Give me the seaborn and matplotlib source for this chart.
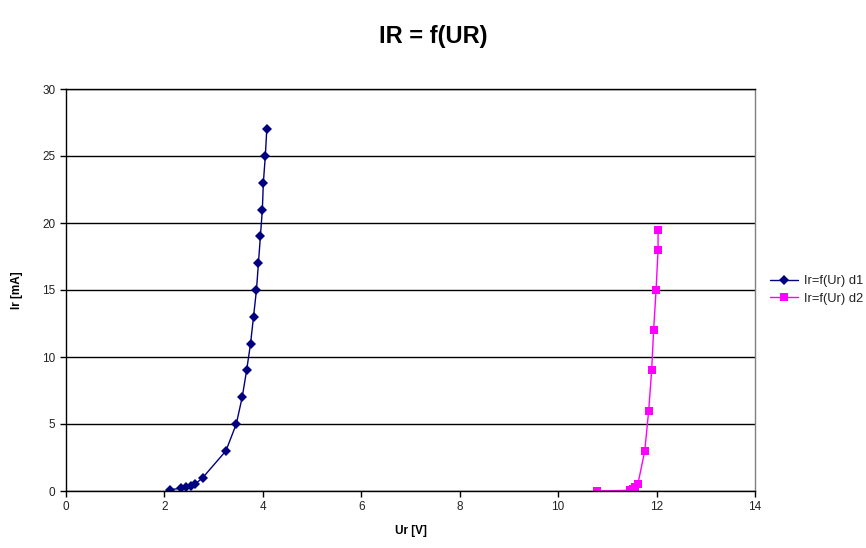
import matplotlib
matplotlib.use("Agg")
import matplotlib.pyplot as plt
import seaborn as sns
import pandas as pd

# Series d1
ur_d1 = [2.11, 2.34, 2.44, 2.55, 2.62, 2.78, 3.25, 3.46, 3.58, 3.67, 3.75, 3.81, 3.87, 3.91, 3.95, 3.99, 4.01, 4.05, 4.08]
ir_d1 = [0.1, 0.2, 0.3, 0.4, 0.5, 1.0, 3.0, 5.0, 7.0, 9.0, 11.0, 13.0, 15.0, 17.0, 19.0, 21.0, 23.0, 25.0, 27.0]
# Series d2
ur_d2 = [10.79, 11.45, 11.52, 11.57, 11.62, 11.76, 11.84, 11.90, 11.94, 11.99, 12.03, 12.03]
ir_d2 = [0.0, 0.05, 0.15, 0.3, 0.5, 3.0, 6.0, 9.0, 12.0, 15.0, 18.0, 19.5]

label_d1 = "Ir=f(Ur) d1"
label_d2 = "Ir=f(Ur) d2"
x_ticks = [0, 2, 4, 6, 8, 10, 12, 14]
y_ticks = [0, 5, 10, 15, 20, 25, 30]

df = pd.concat([
    pd.DataFrame({"Ur": ur_d1, "Ir": ir_d1, "serie": label_d1}),
    pd.DataFrame({"Ur": ur_d2, "Ir": ir_d2, "serie": label_d2}),
], ignore_index=True)

sns.set_style("white")
plt.rcParams['font.family'] = ['Liberation Sans', 'DejaVu Sans']
plt.rcParams['text.color'] = 'black'
plt.rcParams['axes.labelcolor'] = 'black'
plt.rcParams['xtick.color'] = 'black'
plt.rcParams['ytick.color'] = 'black'

fig = plt.figure(figsize=(8.66, 5.48), dpi=100)
ax = fig.add_axes([66/866, 1 - 491/548, (755-66)/866, (491-89)/548])

sns.lineplot(data=df, x="Ur", y="Ir", hue="serie", style="serie",
             palette={label_d1: "#000080", label_d2: "#FF00FF"},
             markers={label_d1: "D", label_d2: "s"},
             dashes=False, sort=False, estimator=None,
             linewidth=1, markersize=5, markeredgewidth=0, ax=ax)

for line in ax.lines:
    if line.get_marker() == 's':
        line.set_markersize(5.8)

ax.set_xlim(0, 14)
ax.set_ylim(0, 30)
ax.set_xticks(x_ticks)
ax.set_yticks(y_ticks)
ax.tick_params(axis='both', labelsize=8.5, length=4, width=1, direction='out',
               bottom=True, left=True, color='black', labelcolor='#222222')
ax.yaxis.grid(True, color='black', linewidth=1)
ax.xaxis.grid(False)
ax.spines['top'].set_color('black')
ax.spines['right'].set_color('#808080')
for side in ['left', 'bottom', 'top', 'right']:
    ax.spines[side].set_linewidth(1)
ax.spines['left'].set_color('black')
ax.spines['bottom'].set_color('black')

ax.set_xlabel("Ur [V]", fontsize=8.5, fontweight='bold', labelpad=8)
ax.set_ylabel("Ir [mA]", fontsize=8.5, fontweight='bold', labelpad=14)

fig.suptitle("IR = f(UR)", x=433/866, y=1 - 37/548, va='center',
             fontsize=17, fontweight='bold', color='black')

leg = ax.legend(loc='center left', bbox_to_anchor=(1.005, 0.5), frameon=False,
                fontsize=9.3, handlelength=2.2, handletextpad=0.4, labelspacing=0.45)
for t in leg.get_texts():
    t.set_color('#222222')

fig.savefig("out.png", dpi=100)
